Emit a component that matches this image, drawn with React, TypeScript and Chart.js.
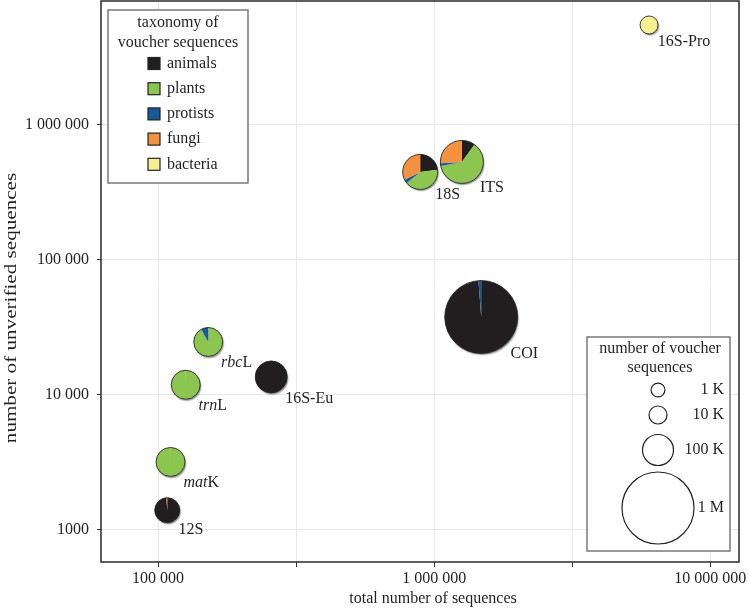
import React, { useEffect, useRef } from "react";
import { Chart, registerables } from "chart.js";
Chart.register(...registerables);

// ---- data ----
const markers = ["COI", "ITS", "18S", "16S-Pro", "16S-Eu", "rbcL", "trnL", "matK", "12S"];
const italicPrefix = ["", "", "", "", "", "rbc", "trn", "mat", ""];
const totalSequences = [1480000, 1260000, 890000, 6000000, 257000, 152000, 126000, 111000, 108000];
const unverifiedSequences = [37800, 532000, 449000, 5500000, 13600, 24700, 11900, 3190, 1400];
const voucherSequences = [1030000, 267000, 147000, 10000, 111000, 80000, 80000, 80000, 47000];

// taxonomy shares of voucher sequences per marker
const animals = [0.988, 0.1, 0.23, 0.003, 1.0, 0.0, 0.003, 0.003, 0.99];
const plants = [0.0, 0.62, 0.41, 0.0, 0.0, 0.92, 0.997, 0.997, 0.0];
const protists = [0.012, 0.02, 0.035, 0.0, 0.0, 0.08, 0.0, 0.0, 0.0];
const fungi = [0.0, 0.26, 0.325, 0.0, 0.0, 0.0, 0.0, 0.0, 0.01];
const bacteria = [0.0, 0.0, 0.0, 0.997, 0.0, 0.0, 0.0, 0.0, 0.0];

const groupNames = ["animals", "plants", "protists", "fungi", "bacteria"];
const groupValues = [animals, plants, protists, fungi, bacteria];
const groupColors = ["#221e1f", "#8cc650", "#165a9c", "#f4923f", "#f6ef92"];

const xTickValues = [100000, 316228, 1000000, 3162278, 10000000];
const yTickValues = [1000, 10000, 100000, 1000000];
const xMin = 62170;
const xMax = 12700000;
const yMin = 579;
const yMax = 8280000;

const sizeLegendValues = [1000, 10000, 100000, 1000000];
const sizeLegendLabels = ["1 K", "10 K", "100 K", "1 M"];

const FONT = "'Liberation Serif', 'DejaVu Serif', serif";
const TEXT = "#231f20";

function radiusFor(v: number) {
  return 6 + 0.03 * Math.sqrt(v);
}

function fmt(v: number): string {
  const s = String(Math.round(v));
  if (s.length <= 4) return s;
  return s.replace(/\B(?=(\d{3})+(?!\d))/g, " ");
}

function isDecade(v: number) {
  const l = Math.log10(v);
  return Math.abs(l - Math.round(l)) < 1e-6;
}

const piePlugin = {
  id: "pies",
  beforeDatasetsDraw(chart: any) {
    const { ctx, chartArea } = chart;
    ctx.save();
    ctx.strokeStyle = "#2a2a2a";
    ctx.lineWidth = 1.5;
    ctx.strokeRect(chartArea.left, chartArea.top, chartArea.right - chartArea.left, chartArea.bottom - chartArea.top);
    ctx.restore();
  },
  afterDatasetsDraw(chart: any) {
    const { ctx } = chart;
    const xs = chart.scales.x;
    const ys = chart.scales.y;
    ctx.save();
    for (let i = 0; i < markers.length; i++) {
      const cx = xs.getPixelForValue(totalSequences[i]);
      const cy = ys.getPixelForValue(unverifiedSequences[i]);
      const r = radiusFor(voucherSequences[i]);
      ctx.save();
      ctx.shadowColor = "rgba(0,0,0,0.45)";
      ctx.shadowOffsetX = 1;
      ctx.shadowOffsetY = 1.5;
      ctx.shadowBlur = 1.5;
      ctx.beginPath();
      ctx.arc(cx, cy, r, 0, Math.PI * 2);
      ctx.fillStyle = "#fff";
      ctx.fill();
      ctx.restore();
      let start = -Math.PI / 2;
      for (let g = 0; g < groupValues.length; g++) {
        const f = groupValues[g][i];
        if (f <= 0) continue;
        const end = start + f * Math.PI * 2;
        ctx.beginPath();
        ctx.moveTo(cx, cy);
        ctx.arc(cx, cy, r, start, end);
        ctx.closePath();
        ctx.fillStyle = groupColors[g];
        ctx.fill();
        start = end;
      }
      ctx.beginPath();
      ctx.arc(cx, cy, r, 0, Math.PI * 2);
      ctx.strokeStyle = "rgba(30,30,30,0.85)";
      ctx.lineWidth = 1;
      ctx.stroke();

      const lx = cx + 0.75 * r + 2;
      const ly = cy + 0.75 * r + 14;
      ctx.fillStyle = TEXT;
      ctx.textBaseline = "alphabetic";
      ctx.textAlign = "left";
      const it = italicPrefix[i];
      let x = lx;
      if (it) {
        ctx.font = `italic 16px ${FONT}`;
        ctx.fillText(it, x, ly);
        x += ctx.measureText(it).width;
      }
      ctx.font = `16px ${FONT}`;
      ctx.fillText(markers[i].slice(it.length), x, ly);
    }
    ctx.restore();
  },
  afterDraw(chart: any) {
    const { ctx } = chart;
    ctx.save();
    ctx.fillStyle = TEXT;
    ctx.font = `16px ${FONT}`;
    ctx.textAlign = "center";
    ctx.textBaseline = "middle";
    ctx.fillText("total number of sequences", 433, 599);
    ctx.save();
    ctx.translate(12, 308);
    ctx.rotate(-Math.PI / 2);
    ctx.scale(1.32, 1);
    ctx.fillText("number of unverified sequences", 0, 0);
    ctx.restore();

    // taxonomy legend
    ctx.fillStyle = "#fff";
    ctx.fillRect(108, 10, 140, 173);
    ctx.strokeStyle = "#7a7a7a";
    ctx.lineWidth = 1.5;
    ctx.strokeRect(108, 10, 140, 173);
    ctx.fillStyle = TEXT;
    ctx.textAlign = "center";
    ctx.fillText("taxonomy of", 178, 23);
    ctx.fillText("voucher sequences", 178, 43);
    for (let g = 0; g < groupNames.length; g++) {
      const yy = 63.5 + g * 25.2;
      ctx.fillStyle = groupColors[g];
      ctx.fillRect(148, yy - 6, 12, 12);
      ctx.strokeStyle = "#222";
      ctx.lineWidth = 1.2;
      ctx.strokeRect(148, yy - 6, 12, 12);
      ctx.fillStyle = TEXT;
      ctx.textAlign = "left";
      ctx.fillText(groupNames[g], 167, yy);
    }

    // size legend
    ctx.fillStyle = "#fff";
    ctx.fillRect(587, 337, 143, 214);
    ctx.strokeStyle = "#7a7a7a";
    ctx.lineWidth = 1.5;
    ctx.strokeRect(587, 337, 143, 214);
    ctx.fillStyle = TEXT;
    ctx.textAlign = "center";
    ctx.fillText("number of voucher", 660, 349);
    ctx.fillText("sequences", 660, 368);
    const cys = [390, 415, 450, 508];
    for (let k = 0; k < sizeLegendValues.length; k++) {
      const r = radiusFor(sizeLegendValues[k]);
      ctx.beginPath();
      ctx.arc(658, cys[k], r, 0, Math.PI * 2);
      ctx.strokeStyle = "#222";
      ctx.lineWidth = 1.2;
      ctx.stroke();
      ctx.fillStyle = TEXT;
      ctx.textAlign = "right";
      ctx.fillText(sizeLegendLabels[k], 724, cys[k]);
    }
    ctx.restore();
  },
};

export default function App() {
  const ref = useRef<HTMLCanvasElement | null>(null);
  useEffect(() => {
    document.body.style.margin = "0";
    const canvas = ref.current!;
    const chart = new Chart(canvas, {
      type: "scatter",
      data: {
        datasets: [
          {
            label: "markers",
            data: markers.map((_, i) => ({ x: totalSequences[i], y: unverifiedSequences[i] })),
            pointRadius: 0,
            pointHoverRadius: 0,
          },
        ],
      },
      options: {
        animation: false,
        responsive: false,
        devicePixelRatio: 1,
        layout: { padding: { left: 0, right: 9, top: 1, bottom: 0 } },
        plugins: { legend: { display: false }, tooltip: { enabled: false } },
        scales: {
          x: {
            type: "logarithmic",
            min: xMin,
            max: xMax,
            afterBuildTicks: (s: any) => {
              s.ticks = xTickValues.map((v) => ({ value: v }));
            },
            afterFit: (s: any) => {
              s.height = 46;
              s.paddingLeft = 0;
              s.paddingRight = 0;
            },
            grid: { color: "#e8e8e8", tickColor: "#333", tickLength: 5, lineWidth: 1 },
            border: { display: false },
            ticks: {
              autoSkip: false,
              maxRotation: 0,
              padding: 2,
              color: TEXT,
              font: { family: FONT, size: 16 },
              callback: (v: any) => (isDecade(Number(v)) ? fmt(Number(v)) : ""),
            },
            title: { display: false },
          },
          y: {
            type: "logarithmic",
            min: yMin,
            max: yMax,
            afterBuildTicks: (s: any) => {
              s.ticks = yTickValues.map((v) => ({ value: v }));
            },
            afterFit: (s: any) => {
              s.width = 101;
              s.paddingTop = 0;
              s.paddingBottom = 0;
            },
            grid: { color: "#e8e8e8", tickColor: "#333", tickLength: 4, lineWidth: 1 },
            border: { display: false },
            ticks: {
              autoSkip: false,
              padding: 8,
              color: TEXT,
              font: { family: FONT, size: 16 },
              callback: (v: any) => fmt(Number(v)),
            },
            title: { display: false },
          },
        },
      },
      plugins: [piePlugin],
    } as any);
    return () => chart.destroy();
  }, []);
  return (
    <div style={{ position: "absolute", left: 0, top: 0, width: 748, height: 608 }}>
      <canvas ref={ref} width={748} height={608} style={{ width: 748, height: 608, display: "block" }} />
    </div>
  );
}
